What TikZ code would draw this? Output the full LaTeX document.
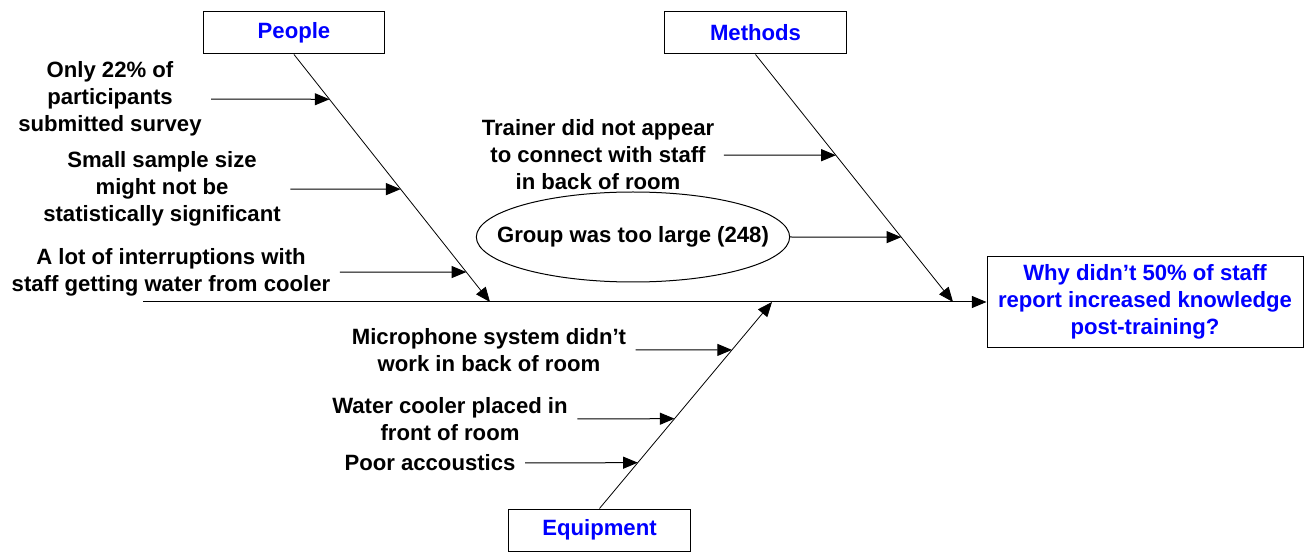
\documentclass[tikz,border=0pt]{standalone}
\usepackage{fontspec}
\setmainfont{Liberation Sans}
\usetikzlibrary{arrows.meta,calc,positioning,shapes.geometric}

\begin{document}
\begin{tikzpicture}[x=0.75pt, y=-0.75pt, >={Triangle[length=11pt,width=9pt]},
  font=\fontsize{16.6}{20.2}\selectfont\bfseries,
  catbox/.style={draw, line width=0.75pt, minimum width=136pt, minimum height=31.5pt, text=blue},
  cause/.style={align=center, inner sep=2pt},
  bone/.style={->, line width=0.6pt},
  twig/.style={->, line width=0.75pt, shorten <=5pt}]
  \useasboundingbox (0,0) rectangle (1304,552);
  % effect and spine
  \node[draw, line width=0.75pt, text=blue, align=center, minimum width=237pt, minimum height=68pt] (effect) at (1145,302) {Why didn’t 50\% of staff\\report increased knowledge\\post-training?};
  \coordinate (tail) at (143,302);
  \draw[bone, line width=0.75pt] (tail) -- (effect.west);
  \coordinate (pTip) at (490,302);
  \coordinate (mTip) at (953,302);
  \coordinate (eTip) at (772,302);
  % category boxes
  \node[catbox] (people) at (294,33) {People};
  \node[catbox] (methods) at (755.5,33) {Methods};
  \node[catbox] (equip) at (599.5,530) {Equipment};
  % bones
  \draw[bone] (people.south) -- coordinate[pos=0.181] (pc1) coordinate[pos=0.544] (pc2) coordinate[pos=0.879] (pc3) (pTip);
  \draw[bone] (methods.south) -- coordinate[pos=0.407] (mc1) coordinate[pos=0.738] (mc2) (mTip);
  \draw[bone] (equip.north) -- coordinate[pos=0.222] (ec1) coordinate[pos=0.435] (ec2) coordinate[pos=0.768] (ec3) (eTip);
  % causes: people
  \node[cause] (survey) at (110,99) {Only 22\% of\\participants\\submitted survey};
  \node[cause] (sample) at (162,189) {Small sample size\\might not be\\statistically significant};
  \node[cause] (interrupt) at (171,272) {A lot of interruptions with\\staff getting water from cooler};
  \draw[twig] (survey.east) -- (pc1);
  \draw[twig] (sample.east) -- (pc2);
  \draw[twig] (interrupt.east) -- (pc3);
  % causes: methods
  \node[cause] (trainer) at (598,155) {Trainer did not appear\\to connect with staff\\in back of room};
  \node[draw, ellipse, line width=0.75pt, minimum width=235pt, minimum height=67.5pt, inner xsep=-21pt, inner ysep=0pt] (group) at (633,237) {Group was too large (248)};
  \draw[twig] (trainer.east) -- (mc1);
  \draw[twig, shorten <=0pt] (group.east) -- (mc2);
  % causes: equipment
  \node[cause] (micro) at (489,350) {Microphone system didn’t\\work in back of room};
  \node[cause] (cooler) at (450,419) {Water cooler placed in\\front of room};
  \node[cause] (acoustic) at (430,463) {Poor accoustics};
  \draw[twig] (micro.east) -- (ec3);
  \draw[twig] (cooler.east) -- (ec2);
  \draw[twig] (acoustic.east) -- (ec1);
\end{tikzpicture}
\end{document}
